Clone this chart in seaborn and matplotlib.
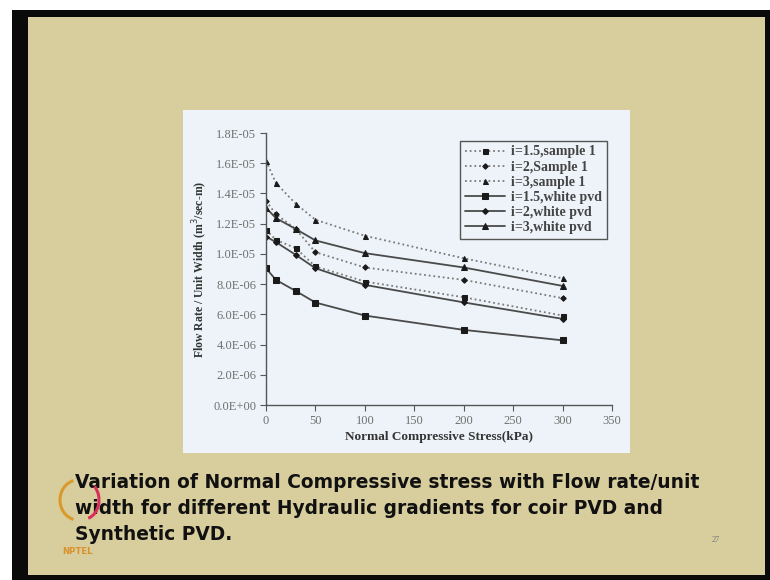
import numpy as np
import pandas as pd
import matplotlib
matplotlib.use("Agg")
import matplotlib.pyplot as plt
from matplotlib.patches import Rectangle, Arc
import seaborn as sns

# Normal compressive stress (kPa)
stress = [0, 10, 30, 50, 100, 200, 300]

# Flow rate per unit width (m^3/sec-m), in units of 1e-6
q_i15_sample = [11.59, 10.93, 10.38, 9.17, 8.17, 7.13, 5.92]
q_i2_sample = [13.50, 12.63, 11.65, 10.11, 9.10, 8.28, 7.07]
q_i3_sample = [16.17, 14.69, 13.32, 12.26, 11.20, 9.71, 8.38]
q_i15_white = [9.05, 8.28, 7.55, 6.78, 5.92, 4.97, 4.28]
q_i2_white = [11.15, 10.78, 9.94, 9.05, 7.95, 6.79, 5.70]
q_i3_white = [13.05, 12.37, 11.65, 10.89, 10.05, 9.10, 7.88]

series_labels = ["i=1.5,sample 1", "i=2,Sample 1", "i=3,sample 1",
                 "i=1.5,white pvd", "i=2,white pvd", "i=3,white pvd"]
series_values = [q_i15_sample, q_i2_sample, q_i3_sample,
                 q_i15_white, q_i2_white, q_i3_white]

y_ticks = np.arange(0, 1.81e-5, 2e-6)
y_tick_labels = ["0.0E+00", "2.0E-06", "4.0E-06", "6.0E-06", "8.0E-06",
                 "1.0E-05", "1.2E-05", "1.4E-05", "1.6E-05", "1.8E-05"]
x_ticks = [0, 50, 100, 150, 200, 250, 300, 350]

rows = []
for lab, vals in zip(series_labels, series_values):
    for s, v in zip(stress, vals):
        rows.append({"stress": s, "flow": v * 1e-6, "series": lab})
df = pd.DataFrame(rows)

sns.set_theme(style="white")

W, H = 770, 580
fig = plt.figure(figsize=(W / 100, H / 100), dpi=100)
fig.patch.set_facecolor("white")


def px_rect(x0, y0, x1, y1, color, z=0):
    fig.patches.append(Rectangle((x0 / W, 1 - y1 / H), (x1 - x0) / W, (y1 - y0) / H,
                                 transform=fig.transFigure, facecolor=color,
                                 edgecolor="none", zorder=z))


# slide frame, slide body and chart panel
px_rect(12, 10, 770, 580, "#0a0a0a", -3)
px_rect(28, 17, 765, 575, "#d8cd9c", -2)
px_rect(183, 110, 630, 453, "#edf3f8", -1)

ax = fig.add_axes([266 / W, 1 - 405 / H, (612 - 266) / W, (405 - 133) / H])
ax.set_facecolor("none")

styles = {
    "i=1.5,sample 1": dict(ls=(0, (1, 1.6)), color="#7a7a7a", marker="s", ms=3.6),
    "i=2,Sample 1": dict(ls=(0, (1, 1.6)), color="#7a7a7a", marker="D", ms=2.8),
    "i=3,sample 1": dict(ls=(0, (1, 1.6)), color="#7a7a7a", marker="^", ms=3.6),
    "i=1.5,white pvd": dict(ls="-", color="#4a4a4a", marker="s", ms=4.2),
    "i=2,white pvd": dict(ls="-", color="#4a4a4a", marker="D", ms=3.0),
    "i=3,white pvd": dict(ls="-", color="#4a4a4a", marker="^", ms=3.8),
}

for lab in series_labels:
    st = styles[lab]
    sub = df[df["series"] == lab]
    sns.lineplot(data=sub, x="stress", y="flow", ax=ax, label=lab,
                 color=st["color"], linestyle=st["ls"], linewidth=1.3,
                 marker=st["marker"], markersize=st["ms"],
                 markerfacecolor="#1a1a1a", markeredgecolor="#1a1a1a")

ax.set_xlim(0, 350)
ax.set_ylim(0, 1.8e-5)
ax.set_xticks(x_ticks)
ax.set_xticklabels([str(t) for t in x_ticks])
ax.set_yticks(y_ticks)
ax.set_yticklabels(y_tick_labels)

serif = "Liberation Serif"
for lbl in ax.get_xticklabels() + ax.get_yticklabels():
    lbl.set_fontfamily(serif)
    lbl.set_fontsize(9)
    lbl.set_color("#707070")

ax.tick_params(axis="both", direction="out", length=4, width=0.8,
               color="#555555", pad=3, left=True, bottom=True)
for side in ("top", "right"):
    ax.spines[side].set_visible(False)
for side in ("left", "bottom"):
    ax.spines[side].set_color("#555555")
    ax.spines[side].set_linewidth(1.0)

ax.set_xlabel("Normal Compressive Stress(kPa)", fontfamily=serif,
              fontweight="bold", fontsize=9.5, color="#333333", labelpad=3)
ax.set_ylabel("Flow Rate / Unit Width (m$^3$/sec-m)", fontfamily=serif,
              fontweight="bold", fontsize=8.5, color="#333333", labelpad=2)

leg = ax.legend(loc="upper right", bbox_to_anchor=(0.985, 0.972),
                frameon=True, fancybox=False, framealpha=1, handlelength=2.9,
                handletextpad=0.4, borderpad=0.35, labelspacing=0.15,
                borderaxespad=0,
                prop={"family": serif, "weight": "bold", "size": 10})
leg.get_frame().set_edgecolor("#555555")
leg.get_frame().set_facecolor("#edf3f8")
leg.get_frame().set_linewidth(1.0)
for t in leg.get_texts():
    t.set_color("#444444")

# caption
caption = ["Variation of Normal Compressive stress with Flow rate/unit",
           "width for different Hydraulic gradients for coir PVD and",
           "Synthetic PVD."]
for line, yc in zip(caption, [483, 509, 535]):
    fig.text(75 / W, 1 - yc / H, line, ha="left", va="center",
             fontfamily="DejaVu Sans", fontweight="bold", fontsize=13.4,
             color="#111111")

# NPTEL mark and page number
fig.patches.append(Arc((78 / W, 1 - 500 / H), 36 / W, 40 / H, theta1=100, theta2=260,
                       transform=fig.transFigure, color="#d99a2b", lw=2.2, zorder=5))
fig.patches.append(Arc((84 / W, 1 - 500 / H), 30 / W, 38 / H, theta1=-80, theta2=60,
                       transform=fig.transFigure, color="#d8305a", lw=2.2, zorder=5))
fig.text(62 / W, 1 - 551 / H, "NPTEL", ha="left", va="center",
         fontfamily="DejaVu Sans", fontweight="bold", fontsize=6.2, color="#d9922b")
fig.text(716 / W, 1 - 540 / H, "27", ha="center", va="center",
         fontfamily=serif, fontsize=6, color="#777777")

fig.savefig("out.png", dpi=100)
